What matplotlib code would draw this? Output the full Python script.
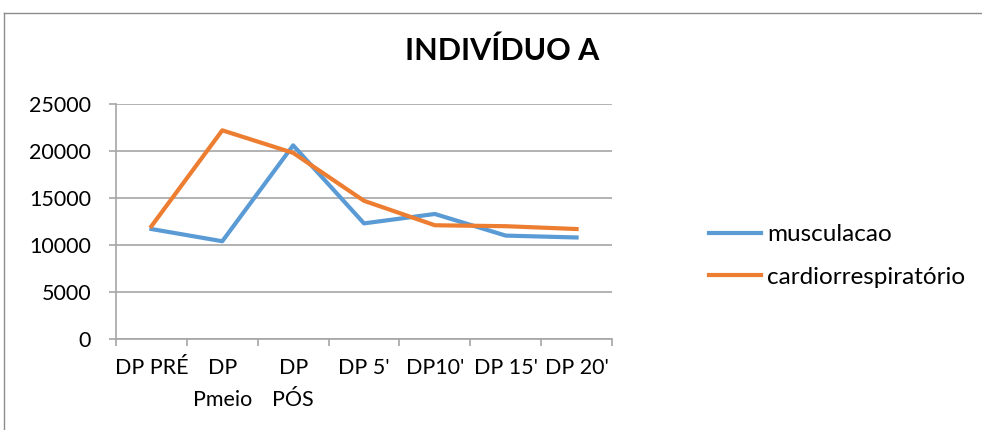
import matplotlib.pyplot as plt
from matplotlib.lines import Line2D
import numpy as np

plt.rcParams['font.family'] = ['Lato', 'DejaVu Sans']

categorias = ["DP PRÉ", "DP\nPmeio", "DP\nPÓS", "DP 5'", "DP10'", "DP 15'", "DP 20'"]
musculacao = [11700, 10400, 20600, 12300, 13300, 11000, 10800]
cardio = [12000, 22200, 19800, 14700, 12100, 12000, 11700]
yticks = [0, 5000, 10000, 15000, 20000, 25000]

azul = "#5B9BD5"
laranja = "#ED7D31"
cinza = "#A6A6A6"

fig = plt.figure(figsize=(9.82, 4.3), dpi=100)
ax = fig.add_axes([116/982, 1 - 339/430, 496/982, 235/430])

x = np.arange(len(categorias)) + 0.5
ax.plot(x, musculacao, color=azul, lw=3, label="musculacao")
ax.plot(x, cardio, color=laranja, lw=3, label="cardiorrespiratório")

ax.set_xlim(0, len(categorias))
ax.set_ylim(0, 25000)
ax.set_yticks(yticks)
ax.set_yticklabels([str(v) for v in yticks], fontsize=15.5)
ax.set_xticks(np.arange(len(categorias) + 1))
ax.set_xticklabels([])
ax.set_xticks(x, minor=True)
ax.set_xticklabels(categorias, minor=True, fontsize=15.5, linespacing=1.7, va='top')
ax.tick_params(axis='x', which='minor', length=0, pad=14)
ax.tick_params(axis='x', which='major', length=5, color=cinza, width=1.2, direction='out')
ax.tick_params(axis='y', length=5, color=cinza, width=1.2, pad=13)

ax.grid(axis='y', color=cinza, lw=1.2)
ax.set_axisbelow(True)
for lado in ['top', 'right']:
    ax.spines[lado].set_visible(False)
for lado in ['left', 'bottom']:
    ax.spines[lado].set_color(cinza)
    ax.spines[lado].set_linewidth(1.2)

fig.text(502/982, 1 - 51/430, "INDIVÍDUO A", ha='center', va='center',
         fontsize=22, fontweight='bold')

ax.legend(loc='center left', bbox_to_anchor=(593/496, 0.353), frameon=False,
          fontsize=17.5, handlelength=2.15, handletextpad=0.25, labelspacing=0.9,
          borderpad=0, borderaxespad=0)

# moldura do gráfico (só as bordas esquerda e superior aparecem)
fig.add_artist(Line2D([4/982, 4/982], [0, 1 - 13/430], color='#8c8c8c', lw=1))
fig.add_artist(Line2D([4/982, 1], [1 - 13/430, 1 - 13/430], color='#8c8c8c', lw=1))

fig.savefig("out.png", dpi=100)
